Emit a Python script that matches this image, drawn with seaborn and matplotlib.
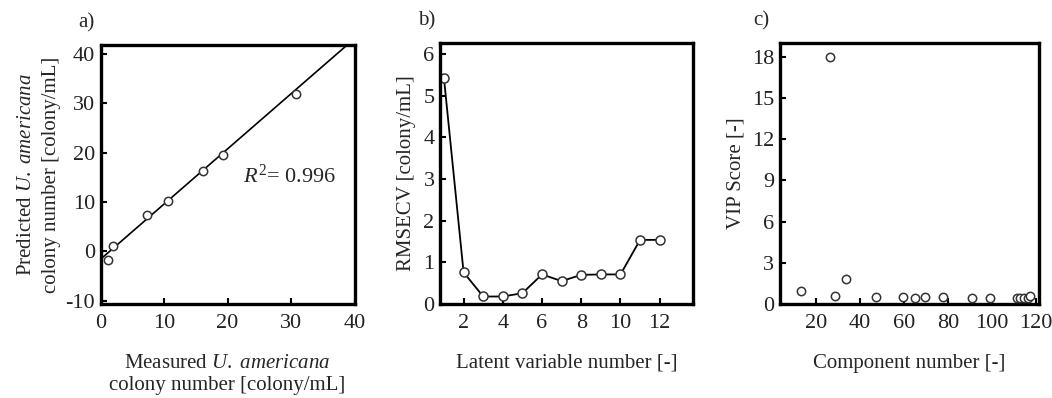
import numpy as np
import pandas as pd
import matplotlib
matplotlib.use("Agg")
import matplotlib.pyplot as plt
import seaborn as sns

# a) measured vs predicted
measured = [1.2, 2.0, 7.35, 10.65, 16.2, 19.2, 30.8]
predicted = [-1.7, 1.1, 7.3, 10.3, 16.3, 19.5, 31.8]
fit_x = [0, 40]
fit_y = [-1.55, 43.1]

# b) RMSECV vs latent variables
latent = [1, 2, 3, 4, 5, 6, 7, 8, 9, 10, 11, 12]
rmsecv = [5.42, 0.76, 0.18, 0.18, 0.26, 0.71, 0.55, 0.70, 0.71, 0.71, 1.54, 1.54]

# c) VIP scores
component = [13.2, 26.5, 28.5, 33.5, 47.4, 59.7, 64.8, 69.6, 77.8, 91.2, 99.2,
             111.5, 113.0, 114.8, 116.3, 117.5]
vip = [0.95, 18.0, 0.6, 1.8, 0.5, 0.5, 0.45, 0.5, 0.5, 0.45, 0.45,
       0.45, 0.45, 0.45, 0.45, 0.55]

sns.set_theme(style="white")
plt.rcParams['font.family'] = ['Liberation Serif', 'DejaVu Serif']
plt.rcParams['mathtext.fontset'] = 'custom'
plt.rcParams['mathtext.rm'] = 'Liberation Serif'
plt.rcParams['mathtext.it'] = 'Liberation Serif:italic'
plt.rcParams['axes.unicode_minus'] = False

fig = plt.figure(figsize=(10.52, 3.98), dpi=100)
ax_a = fig.add_axes([0.0957, 0.2354, 0.2413, 0.6515])
ax_b = fig.add_axes([0.4183, 0.2362, 0.2405, 0.6558])
ax_c = fig.add_axes([0.7414, 0.2362, 0.2462, 0.6558])

mk = dict(s=36, color='white', edgecolor='#333333', linewidth=1.1, zorder=3)

# a)
sns.lineplot(x=fit_x, y=fit_y, ax=ax_a, color='black', linewidth=1.2)
sns.scatterplot(x=measured, y=predicted, ax=ax_a, **mk)
ax_a.set_xlim(0, 40)
ax_a.set_ylim(-10.7, 41.8)
ax_a.set_xticks([0, 10, 20, 30, 40])
ax_a.set_yticks([-10, 0, 10, 20, 30, 40])
ax_a.text(22.4, 15.2, r"$R^{2}$= 0.996", fontsize=16, va='center')
ax_a.set_xlabel("Measured $\\mathit{U.\\ americana}$\ncolony number [colony/mL]",
                fontsize=15, labelpad=15, linespacing=1.2)
ax_a.set_ylabel("Predicted $\\mathit{U.\\ americana}$\ncolony number [colony/mL]",
                fontsize=15, labelpad=3, linespacing=1.45)

# b)
df_b = pd.DataFrame({'lv': latent, 'rmsecv': rmsecv})
sns.lineplot(data=df_b, x='lv', y='rmsecv', ax=ax_b, color='black', linewidth=1.3,
             marker='o', markersize=6.5, markerfacecolor='white',
             markeredgecolor='#333333', markeredgewidth=1.1)
ax_b.set_xlim(0.8, 13.7)
ax_b.set_ylim(0, 6.27)
ax_b.set_xticks([2, 4, 6, 8, 10, 12])
ax_b.set_yticks([0, 1, 2, 3, 4, 5, 6])
ax_b.set_xlabel("Latent variable number [-]", fontsize=15, labelpad=15)
ax_b.set_ylabel("RMSECV [colony/mL]", fontsize=15, labelpad=5)

# c)
sns.scatterplot(x=component, y=vip, ax=ax_c, **mk)
ax_c.set_xlim(3.5, 121.5)
ax_c.set_ylim(0, 19)
ax_c.set_xticks([20, 40, 60, 80, 100, 120])
ax_c.set_yticks([0, 3, 6, 9, 12, 15, 18])
ax_c.set_xlabel("Component number [-]", fontsize=15, labelpad=15)
ax_c.set_ylabel("VIP Score [-]", fontsize=15, labelpad=5)

for ax, tag, tx in zip([ax_a, ax_b, ax_c], ['a)', 'b)', 'c)'], [-0.09, -0.087, -0.104]):
    for sp in ax.spines.values():
        sp.set_linewidth(2.4)
        sp.set_color('black')
    ax.tick_params(axis='both', which='major', direction='in', length=4, width=1.5,
                   labelsize=16, colors='black', left=True, bottom=True)
    ax.tick_params(axis='x', pad=7)
    ax.tick_params(axis='y', pad=4)
    ax.tick_params(axis='both', labelcolor='#222222')
    ax.text(tx, 1.085, tag, transform=ax.transAxes, fontsize=15, va='center')

fig.savefig("out.png", dpi=100)
